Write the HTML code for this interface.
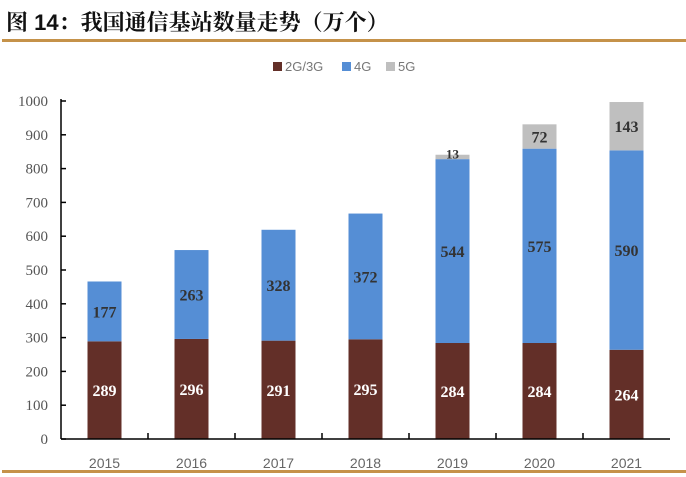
<!DOCTYPE html>
<html><head><meta charset="utf-8"><style>
body{margin:0;background:#fff;width:686px;height:477px;overflow:hidden;position:relative}
.title{position:absolute;left:6px;top:6px;font:bold 22px "Liberation Sans","Noto Serif CJK SC",serif;color:#111}
.rule{position:absolute;left:2px;width:684px;height:3px;background:#c5924a}
</style></head><body>
<div class="title">图 14：我国通信基站数量走势（万个）</div>
<div class="rule" style="top:39px"></div>
<div class="rule" style="top:470px"></div>
<svg id="c" width="686" height="477" style="position:absolute;left:0;top:0"></svg>
<script>
const years=["2015","2016","2017","2018","2019","2020","2021"];
const s2g3g=[289,296,291,295,284,284,264];
const s4g=[177,263,328,372,544,575,590];
const s5g=[0,0,0,0,13,72,143];
const yTicks=[0,100,200,300,400,500,600,700,800,900,1000];
const NS="http://www.w3.org/2000/svg",svg=document.getElementById('c');
const x0=61,x1=670,y0=439,yTop=101;
const y=v=>y0-(y0-yTop)*v/1000;
const bw=(x1-x0)/years.length;
const xc=i=>x0+bw*(i+0.5);
function mk(t,a,txt){const e=document.createElementNS(NS,t);for(const k in a)e.setAttribute(k,a[k]);if(txt!=null)e.textContent=txt;svg.appendChild(e);return e;}
const cols=["#632f28","#558ed5","#bfbfbf"];
years.forEach((yr,i)=>{
 let base=0;
 [[s2g3g,0,"#fff"],[s4g,1,"#333"],[s5g,2,"#333"]].forEach(([arr,k,tc])=>{
  const v=arr[i];if(!v)return;
  const r=mk('rect',{x:xc(i)-17,y:y(base+v),width:34,height:y(base)-y(base+v),fill:cols[k]});
  
  
  const cy=v<30?y(base+v)+4:(y(base)+y(base+v))/2+6;
  const t=mk('text',{x:xc(i),y:cy,'text-anchor':'middle','font-family':'Liberation Serif,serif','font-weight':'bold','font-size':v<30?13:16,fill:tc},v);
  
  
  base+=v;
 });
 const l=mk('text',{x:xc(i),y:468,'text-anchor':'middle','font-family':'Liberation Sans,sans-serif','font-size':14,fill:'#666'},yr);
 
 
 if(i>0)mk('line',{x1:x0+bw*i,x2:x0+bw*i,y1:y0,y2:y0-6,stroke:'#000','stroke-width':1.5});
});
yTicks.forEach(v=>{
 mk('line',{x1:x0,x2:x0+5,y1:y(v),y2:y(v),stroke:'#000','stroke-width':1.5});
 const t=mk('text',{x:x0-13,y:y(v)+5,'text-anchor':'end','font-family':'Liberation Serif,serif','font-size':15,fill:'#555'},v);
 
 
});
mk('line',{x1:x0,x2:x0,y1:y0,y2:yTop-2,stroke:'#000','stroke-width':1.5});
mk('line',{x1:x0,x2:x1,y1:y0,y2:y0,stroke:'#000','stroke-width':1.5});
[["2G/3G",273],["4G",342],["5G",386]].forEach(([n,lx],k)=>{
 mk('rect',{x:lx,y:62,width:9,height:9,fill:cols[k]});
 const t=mk('text',{x:lx+12,y:71,'font-family':'Liberation Sans,sans-serif','font-size':13,fill:'#777'},n);
 
 
});
</script>
</body></html>
